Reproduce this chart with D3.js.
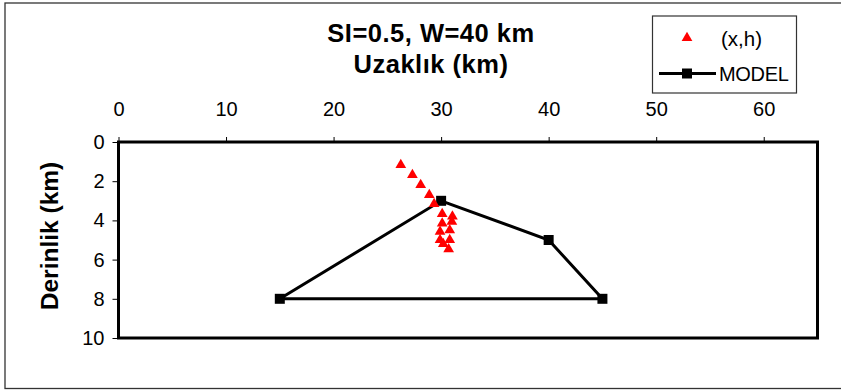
<!DOCTYPE html>
<html>
<head>
<meta charset="utf-8">
<script src="https://cdn.jsdelivr.net/npm/d3@7"></script>
<style>
  html, body { margin: 0; padding: 0; background: #fff; }
  svg { display: block; }
  text { font-family: "Liberation Sans", Arial, sans-serif; fill: #000; }
</style>
</head>
<body>
<svg id="chart" width="841" height="392"></svg>
<script>
// Observed points: horizontal distance x (km) and depth h (km)
const obsX = [26.25, 27.33, 28.1, 28.9, 29.35, 30.1, 31.05, 30.1, 31.0, 29.9, 30.8, 29.9, 30.8, 30.2, 30.7];
const obsH = [1.17, 1.68, 2.19, 2.70, 3.16, 3.67, 3.80, 4.15, 4.07, 4.58, 4.50, 5.00, 5.00, 5.20, 5.47];

// Model polygon vertices (closed)
const modelX = [15, 30, 40, 45, 15];
const modelH = [8, 3, 5, 8, 8];

// Axis ticks
const xTicks = [0, 10, 20, 30, 40, 50, 60];
const yTicks = [0, 2, 4, 6, 8, 10];

const titleLines = ["SI=0.5, W=40 km", "Uzaklık (km)"];
const yTitle = "Derinlik (km)";
const legendLabels = ["(x,h)", "MODEL"];

const svg = d3.select("#chart");

// Outer frame
svg.append("rect")
  .attr("x", 5).attr("y", 3)
  .attr("width", 860).attr("height", 385.5)
  .attr("fill", "none").attr("stroke", "#333").attr("stroke-width", 1.3);

const x = d3.scaleLinear().domain([0, 65]).range([118.5, 817.5]);
const y = d3.scaleLinear().domain([0, 10]).range([142, 338]);

// Axes
const xAxis = svg.append("g")
  .attr("transform", `translate(0,${y(0)})`)
  .call(d3.axisTop(x).tickValues(xTicks).tickSize(5).tickSizeOuter(0).tickPadding(21));
const yAxis = svg.append("g")
  .attr("transform", `translate(${x(0)},0)`)
  .call(d3.axisLeft(y).tickValues(yTicks).tickSize(6).tickSizeOuter(0).tickPadding(8));
[xAxis, yAxis].forEach(g => {
  g.select(".domain").remove();
  g.selectAll(".tick line").attr("stroke", "#000").attr("stroke-width", 1);
  g.selectAll(".tick text")
    .attr("font-family", "Liberation Sans, Arial, sans-serif")
    .attr("font-size", 20).attr("fill", "#000");
});

// Plot frame
svg.append("rect")
  .attr("x", x(0)).attr("y", y(0))
  .attr("width", x(65) - x(0)).attr("height", y(10) - y(0))
  .attr("fill", "none").attr("stroke", "#000").attr("stroke-width", 3);

// Titles
svg.append("text")
  .attr("x", 431).attr("y", 42)
  .attr("text-anchor", "middle")
  .attr("font-size", 25.5).attr("font-weight", "bold")
  .attr("letter-spacing", 0.5)
  .text(titleLines[0]);
svg.append("text")
  .attr("x", 431).attr("y", 73)
  .attr("text-anchor", "middle")
  .attr("font-size", 25.5).attr("font-weight", "bold")
  .attr("letter-spacing", 0.5)
  .text(titleLines[1]);
svg.append("text")
  .attr("transform", "translate(58,236) rotate(-90)")
  .attr("text-anchor", "middle")
  .attr("font-size", 24.5).attr("font-weight", "bold")
  .text(yTitle);

// Model polygon
const modelPts = modelX.map((d, i) => [d, modelH[i]]);
svg.append("path")
  .attr("d", d3.line().x(d => x(d[0])).y(d => y(d[1]))(modelPts))
  .attr("fill", "none").attr("stroke", "#000").attr("stroke-width", 3)
  .attr("stroke-linejoin", "miter");

svg.append("g").selectAll("path")
  .data(modelPts.slice(0, 4))
  .join("path")
  .attr("transform", d => `translate(${x(d[0])},${y(d[1])})`)
  .attr("d", d3.symbol(d3.symbolSquare, 100))
  .attr("fill", "#000");

// Observed points
const obsPts = obsX.map((d, i) => [d, obsH[i]]);
svg.append("g").selectAll("path")
  .data(obsPts)
  .join("path")
  .attr("transform", d => `translate(${x(d[0])},${y(d[1])})`)
  .attr("d", d3.symbol(d3.symbolTriangle, 50))
  .attr("fill", "#ff0000");

// Legend
const lg = svg.append("g");
lg.append("rect")
  .attr("x", 652.5).attr("y", 16)
  .attr("width", 144).attr("height", 77)
  .attr("fill", "#fff").attr("stroke", "#333").attr("stroke-width", 1.2);
lg.append("path")
  .attr("transform", "translate(687,38)")
  .attr("d", d3.symbol(d3.symbolTriangle, 50))
  .attr("fill", "#ff0000");
lg.append("text")
  .attr("x", 721).attr("y", 46)
  .attr("font-size", 20.5)
  .text(legendLabels[0]);
lg.append("line")
  .attr("x1", 659).attr("x2", 716)
  .attr("y1", 73.5).attr("y2", 73.5)
  .attr("stroke", "#000").attr("stroke-width", 3);
lg.append("path")
  .attr("transform", "translate(687,73.5)")
  .attr("d", d3.symbol(d3.symbolSquare, 100))
  .attr("fill", "#000");
lg.append("text")
  .attr("x", 719).attr("y", 81)
  .attr("font-size", 20)
  .attr("letter-spacing", -0.3)
  .text(legendLabels[1]);
</script>
</body>
</html>
